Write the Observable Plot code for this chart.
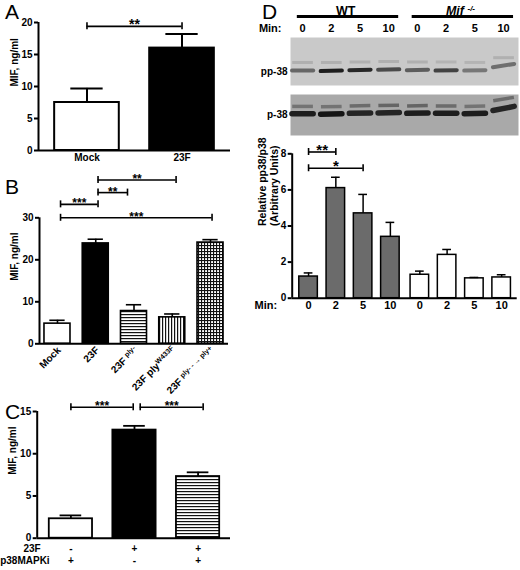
<!DOCTYPE html>
<html><head><meta charset="utf-8">
<script src="https://cdn.jsdelivr.net/npm/d3@7"></script>
<script src="https://cdn.jsdelivr.net/npm/@observablehq/plot@0.6"></script>
<style>
body{margin:0;background:#fff;}
#fig{position:relative;width:520px;height:570px;background:#fff;overflow:hidden;font-family:"Liberation Sans",Arial,sans-serif;}
#fig svg{position:absolute;}
.letter{position:absolute;font-size:21px;line-height:0.8;font-family:"Liberation Sans",Arial,sans-serif;color:#000;}
</style></head><body>
<svg width="0" height="0" style="position:absolute">
<defs>
<pattern id="hlines" width="4" height="3" patternUnits="userSpaceOnUse"><rect width="4" height="3" fill="#fff"/><rect width="4" height="1.2" fill="#111"/></pattern>
<pattern id="vlines" width="3" height="4" patternUnits="userSpaceOnUse"><rect width="3" height="4" fill="#fff"/><rect width="1.2" height="4" fill="#111"/></pattern>
<pattern id="grid" width="3" height="3" patternUnits="userSpaceOnUse"><rect width="3" height="3" fill="#fff"/><rect width="3" height="1.1" fill="#111"/><rect width="1.1" height="3" fill="#111"/></pattern>
</defs></svg>
<div id="fig">
<div class="letter" style="left:5px;top:4px">A</div>
<div class="letter" style="left:5px;top:179px">B</div>
<div class="letter" style="left:5px;top:404px">C</div>
<div class="letter" style="left:262px;top:4px">D</div>
</div>
<script>
// ---------- DATA ----------
// Panel A
const catsA = ["Mock", "23F"];
const valsA = [7.5, 16.0];
const errA = [9.7, 18.2];
const fillsA = ["white", "black"];
const ticksA = [0, 5, 10, 15, 20];
const sigFromA = [0], sigToA = [1], sigYA = [19.4], sigStarsA = ["**"];

// Panel B
const catsBBase = ["Mock", "23F", "23F ", "23F ply", "23F "];
const catsBSup = ["", "", "ply-", "W433F", "ply- - \u2192 ply+"];
const valsB = [4.8, 23.9, 7.8, 6.3, 24.1];
const errB = [5.6, 24.9, 9.3, 7.1, 24.8];
const fillsB = ["white", "black", "hlines", "vlines", "grid"];
const ticksB = [0, 10, 20, 30];
const sigFromB = [1.06, 1.06, 0.08, 0.08];
const sigToB = [3.1, 1.83, 1.06, 4.04];
const sigYB = [39.0, 36.0, 33.2, 30.0];
const sigStarsB = ["**", "**", "***", "***"];

// Panel C
const valsC = [2.3, 12.8, 7.3];
const errC = [2.7, 13.3, 7.8];
const fillsC = ["white", "black", "hlines"];
const ticksC = [0, 5, 10, 15];
const row23F = ["-", "+", "+"];
const rowP38 = ["+", "-", "+"];
const sigFromC = [0, 1.09], sigToC = [0.98, 2.08], sigYC = [15.5, 15.5], sigStarsC = ["***", "***"];

// Panel D
const minutes = ["0", "2", "5", "10"];
const groupsD = ["WT", "Mif"];
const wtVals = [1.2, 6.1, 4.7, 3.4];
const wtErr = [1.4, 6.7, 5.75, 4.2];
const mifVals = [1.3, 2.4, 1.1, 1.15];
const mifErr = [1.5, 2.7, 1.15, 1.3];
const fillsD = ["#6b6b6b", "white"];
const ticksD = [0, 2, 4, 6, 8];
const sigFromD = [0, 0], sigToD = [1, 2], sigYD = [8.1, 7.2], sigStarsD = ["**", "*"];

// Blots (band position from top 0..1, intensity 0..1)
const ppBandY = [0.69, 0.70, 0.68, 0.67, 0.68, 0.69, 0.69, 0.62];
const ppBandYR = [0.69, 0.69, 0.67, 0.66, 0.67, 0.68, 0.68, 0.55];
const ppBandI = [0.55, 0.95, 0.9, 0.7, 0.6, 0.75, 0.45, 0.5];
const ppUpY = [0.52, 0.52, 0.51, 0.5, 0.51, 0.51, 0.52, 0.42];
const ppUpI = [0.15, 0.15, 0.15, 0.15, 0.15, 0.12, 0.12, 0.15];
const pBandY = [0.47, 0.48, 0.46, 0.45, 0.46, 0.46, 0.47, 0.39];
const pBandYR = [0.47, 0.47, 0.45, 0.44, 0.45, 0.46, 0.46, 0.29];
const pBandI = [0.95, 1.0, 0.9, 0.9, 0.95, 0.95, 0.95, 0.9];
const pUpY = [0.29, 0.3, 0.28, 0.27, 0.28, 0.28, 0.29, 0.15];
const pUpYR = [0.29, 0.29, 0.27, 0.26, 0.27, 0.28, 0.28, 0.07];
const pUpI = [0.4, 0.4, 0.45, 0.5, 0.5, 0.45, 0.4, 0.45];

// ---------- HELPERS ----------
const FONT = '"Liberation Sans", Arial, sans-serif';
const baseStyle = {fontFamily: FONT, fontSize: "10px", fontWeight: "bold", background: "transparent", overflow: "visible", color: "#000"};
const patternFill = k => ({hlines: "url(#hlines)", vlines: "url(#vlines)", grid: "url(#grid)"}[k] || k);
const fig = document.getElementById("fig");
function place(svg, left, top) { svg.style.left = left + "px"; svg.style.top = top + "px"; fig.appendChild(svg); return svg; }

function barMarks(rows, half, cap, sw) {
  return [
    Plot.rect(rows, {x1: d => d.x - half, x2: d => d.x + half, y1: 0, y2: "v", fill: "fill", stroke: "#000", strokeWidth: sw}),
    Plot.ruleX(rows, {x: "x", y1: "v", y2: "e", strokeWidth: sw}),
    Plot.ruleY(rows, {x1: d => d.x - cap, x2: d => d.x + cap, y: "e", strokeWidth: sw})
  ];
}
function sigMarks(from, to, ys, stars, t, fs) {
  const rows = from.map((a, i) => ({a, b: to[i], y: ys[i], s: stars[i]}));
  return [
    Plot.ruleY(rows, {x1: "a", x2: "b", y: "y", strokeWidth: 1.6}),
    Plot.ruleX(rows, {x: "a", y1: d => d.y - t, y2: d => d.y + t, strokeWidth: 1.6}),
    Plot.ruleX(rows, {x: "b", y1: d => d.y - t, y2: d => d.y + t, strokeWidth: 1.6}),
    Plot.text(rows, {x: d => (d.a + d.b) / 2, y: "y", text: "s", lineAnchor: "bottom", dy: 3, fontSize: fs, fontWeight: "bold"})
  ];
}
function axisMarks(xmin, ticks, sw) {
  return [
    Plot.ruleY([0], {strokeWidth: sw}),
    Plot.ruleX([xmin], {strokeWidth: sw}),
    Plot.axisY({ticks, tickSize: 4, tickPadding: 2, label: null, strokeWidth: sw, fontWeight: "bold"})
  ];
}
// replace a plain text label by base + superscript tspans
function superscript(svg, base, sup, supSize) {
  if (!sup) return;
  svg.querySelectorAll("text").forEach(el => {
    if (el.textContent !== base + sup || el.children.length) return;
    el.textContent = "";
    const a = document.createElementNS("http://www.w3.org/2000/svg", "tspan");
    a.textContent = base; el.appendChild(a);
    const b = document.createElementNS("http://www.w3.org/2000/svg", "tspan");
    b.textContent = sup;
    b.setAttribute("style", "font-size:" + supSize);
    b.setAttribute("dy", "-0.45em");
    el.appendChild(b);
  });
}

// ---------- PANEL A ----------
{
  const W = 240, H = 175, mt = 22, mb = 25, ymax = 20;
  const rows = catsA.map((c, i) => ({x: i, label: c, v: valsA[i], e: errA[i], fill: patternFill(fillsA[i])}));
  const t = 3.5 * ymax / (H - mt - mb);
  const p = Plot.plot({
    width: W, height: H, marginLeft: 38, marginRight: 10, marginTop: mt, marginBottom: mb,
    x: {domain: [-0.51, 1.51], axis: null}, y: {domain: [0, ymax], axis: null},
    color: {type: "identity"}, style: baseStyle,
    marks: [
      ...barMarks(rows, 0.34, 0.17, 2),
      ...axisMarks(-0.51, ticksA, 2),
      Plot.text(rows, {x: "x", text: "label", frameAnchor: "bottom", dy: 10}),
      ...sigMarks(sigFromA, sigToA, sigYA, sigStarsA, t, 14),
      Plot.text(["MIF, ng/ml"], {frameAnchor: "left", y: ymax / 2, rotate: -90, dx: -24, text: d => d})
    ]
  });
  place(p, 0, 0);
}

// ---------- PANEL B ----------
{
  const W = 240, H = 240, mt = 47.3, mb = 66.7, ymax = 30;
  const rows = catsBBase.map((c, i) => ({x: i, label: c + catsBSup[i], v: valsB[i], e: errB[i], fill: patternFill(fillsB[i])}));
  const t = 3.5 * ymax / (H - mt - mb);
  const p = Plot.plot({
    width: W, height: H, marginLeft: 39, marginRight: 12, marginTop: mt, marginBottom: mb,
    x: {domain: [-0.47, 4.47], axis: null}, y: {domain: [0, ymax], axis: null},
    color: {type: "identity"}, style: baseStyle,
    marks: [
      ...barMarks(rows, 0.34, 0.2, 1.6),
      ...axisMarks(-0.47, ticksB, 2),
      Plot.text(rows, {x: "x", text: "label", frameAnchor: "bottom", dy: 7, dx: 4, rotate: -45, textAnchor: "end"}),
      ...sigMarks(sigFromB, sigToB, sigYB, sigStarsB, t, 12),
      Plot.text(["MIF, ng/ml"], {frameAnchor: "left", y: ymax / 2, rotate: -90, dx: -25, text: d => d})
    ]
  });
  catsBBase.forEach((b, i) => superscript(p, b, catsBSup[i], "7px"));
  place(p, 0, 170);
}

// ---------- PANEL C ----------
{
  const W = 240, H = 175, mt = 16, mb = 32.3, ymax = 15;
  const rows = valsC.map((v, i) => ({x: i, v, e: errC[i], fill: patternFill(fillsC[i]), r1: row23F[i], r2: rowP38[i]}));
  const t = 3.5 * ymax / (H - mt - mb);
  const p = Plot.plot({
    width: W, height: H, marginLeft: 36.7, marginRight: 10, marginTop: mt, marginBottom: mb,
    x: {domain: [-0.53, 2.51], axis: null}, y: {domain: [0, ymax], axis: null},
    color: {type: "identity"}, style: baseStyle,
    marks: [
      ...barMarks(rows, 0.34, 0.17, 1.8),
      ...axisMarks(-0.53, ticksC, 2),
      Plot.text(rows, {x: "x", text: "r1", frameAnchor: "bottom", dy: 14}),
      Plot.text(rows, {x: "x", text: "r2", frameAnchor: "bottom", dy: 26}),
      Plot.text(["23F"], {frameAnchor: "bottom-left", dx: -13.7, dy: 14, textAnchor: "start", text: d => d}),
      Plot.text(["p38MAPKi"], {frameAnchor: "bottom-left", dx: -37, dy: 26, textAnchor: "start", text: d => d}),
      ...sigMarks(sigFromC, sigToC, sigYC, sigStarsC, t, 12),
      Plot.text(["MIF, ng/ml"], {frameAnchor: "left", y: ymax / 2, rotate: -90, dx: -24, text: d => d})
    ]
  });
  place(p, 0, 395);
}

// ---------- PANEL D : header ----------
const laneDomain = [-0.42, 7.52];
{
  const lanes = groupsD.flatMap((g, gi) => minutes.map((m, k) => ({i: gi * 4 + k, m})));
  const groups = groupsD.map((g, gi) => ({g, a: gi * 4, b: gi * 4 + 3}));
  const p = Plot.plot({
    width: 265, height: 36, marginLeft: 35, marginRight: 2, marginTop: 10, marginBottom: 8,
    x: {domain: laneDomain, axis: null}, y: {type: "point", domain: ["group", "lane"], padding: 0, axis: null},
    style: baseStyle,
    marks: [
      Plot.link(groups, {x1: d => d.a - 0.2, x2: d => d.b + 0.33, y1: () => "group", y2: () => "group", dy: 6, strokeWidth: 3}),
      Plot.text(groups.filter(d => d.g === "WT"), {x: d => (d.a + d.b) / 2, y: () => "group", text: "g", fontSize: 12.5}),
      Plot.text(groups.filter(d => d.g === "Mif"), {x: d => (d.a + d.b) / 2, y: () => "group", text: d => d.g + " -/-", fontSize: 12.5, fontStyle: "italic"}),
      Plot.text(lanes, {x: "i", y: () => "lane", text: "m", fontSize: 11}),
      Plot.text(["Min:"], {frameAnchor: "left", y: () => "lane", dx: -9, textAnchor: "end", text: d => d, fontSize: 11})
    ]
  });
  superscript(p, "Mif ", "-/-", "8px");
  place(p, 255, 0);
}

// ---------- PANEL D : blots ----------
function blot(name, H, bg, mainL, mainR, mainI, mainW, upL, upR, upI, upW, labelY) {
  const lanes = mainL.map((y, i) => ({i, y1: y, y2: mainR[i], a: mainI[i], u1: upL[i], u2: upR[i], ua: upI[i]}));
  return Plot.plot({
    width: 265, height: H, marginLeft: 35, marginRight: 2, marginTop: 0, marginBottom: 0,
    x: {domain: laneDomain, axis: null}, y: {domain: [0, 1], reverse: true, axis: null},
    style: baseStyle,
    marks: [
      Plot.frame({fill: bg, stroke: "none"}),
      Plot.link(lanes, {x1: d => d.i - 0.36, x2: d => d.i + 0.36, y1: "u1", y2: "u2", stroke: "#222", strokeOpacity: "ua", strokeWidth: upW}),
      Plot.link(lanes, {x1: d => d.i - 0.37, x2: d => d.i + 0.37, y1: "y1", y2: "y2", stroke: "#151515", strokeOpacity: "a", strokeWidth: mainW, strokeLinecap: "round"}),
      Plot.text([name], {frameAnchor: "left", y: labelY, dx: -3, textAnchor: "end", text: d => d})
    ]
  });
}
place(blot("pp-38", 48, "#c9c9c9", ppBandY, ppBandYR, ppBandI, 4, ppUpY, ppUpY, ppUpI, 3, 0.71), 255, 37);
place(blot("p-38", 41, "#a9a9a9", pBandY, pBandYR, pBandI, 5.5, pUpY, pUpYR, pUpI, 3.5, 0.49), 255, 94);

// ---------- PANEL D : bar chart ----------
{
  const W = 265, H = 180, mt = 13.3, mb = 22.3, ymax = 8;
  const rows = [
    ...minutes.map((m, k) => ({x: k, min: m, v: wtVals[k], e: wtErr[k], fill: fillsD[0]})),
    ...minutes.map((m, k) => ({x: 4 + k + 0.08, min: m, v: mifVals[k], e: mifErr[k], fill: fillsD[1]}))
  ];
  const t = 3.5 * ymax / (H - mt - mb);
  const p = Plot.plot({
    width: W, height: H, marginLeft: 36.7, marginRight: 3.3, marginTop: mt, marginBottom: mb,
    x: {domain: [-0.6, 7.65], axis: null}, y: {domain: [0, ymax], axis: null},
    color: {type: "identity"}, style: baseStyle,
    marks: [
      ...barMarks(rows, 0.34, 0.16, 1.5),
      ...axisMarks(-0.6, ticksD, 2),
      Plot.text(rows, {x: "x", text: "min", frameAnchor: "bottom", dy: 11, fontSize: 11}),
      Plot.text(["Min:"], {frameAnchor: "bottom-left", dx: -15, dy: 11, textAnchor: "end", text: d => d, fontSize: 11}),
      ...sigMarks(sigFromD, sigToD, sigYD, sigStarsD, t, 15),
      Plot.text(["Relative pp38/p38\n(Arbitrary Units)"], {frameAnchor: "left", y: 4, rotate: -90, dx: -24, lineHeight: 1.15, fontSize: 10.5, text: d => d})
    ]
  });
  place(p, 255, 140);
}
</script>
</body></html>
